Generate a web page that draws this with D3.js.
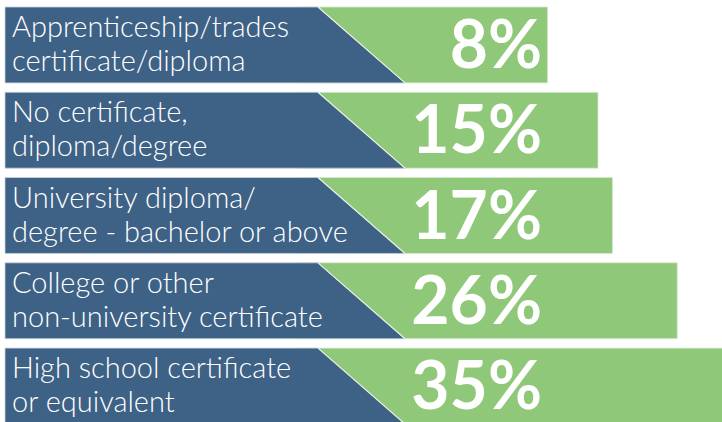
<!DOCTYPE html>
<html>
<head>
<meta charset="utf-8">
<script src="https://cdn.jsdelivr.net/npm/d3@7"></script>
<style>
  body { margin: 0; background: #fff; }
  svg { display: block; }
</style>
</head>
<body>
<div id="edu-container"><svg></svg></div>
<script>
// Data
var labelLine1 = ["Apprenticeship/trades", "No certificate,", "University diploma/", "College or other", "High school certificate"];
var labelLine2 = ["certificate/diploma", "diploma/degree", "degree - bachelor or above", "non-university certificate", "or equivalent"];
var shares = [8, 15, 17, 26, 35];

function CreateEducationChart() {
    var svgWidth = 722;
    var svgHeight = 422;

    var data = shares.map((v, i) => ({ value: v, l1: labelLine1[i], l2: labelLine2[i], idx: i }));

    const svg = d3.select('#edu-container > svg')
        .attr('width', svgWidth)
        .attr('height', svgHeight);

    // rows
    var yScale = d3.scaleBand()
        .domain(data.map(d => d.idx))
        .range([7, 424])
        .paddingInner(0.11)
        .paddingOuter(0);

    // bar end (green right edge)
    var xScale = d3.scaleLinear()
        .domain([0, 35])
        .range([490, 742]);

    var blueLeft = 5, diagTop = 318, diagBottom = 405;
    var blue = '#3e6186', green = '#8fc879';

    var rows = svg.selectAll('.row')
        .data(data)
        .enter()
        .append('g')
        .attr('class', 'row')
        .attr('transform', d => 'translate(0,' + yScale(d.idx) + ')');

    var h = yScale.bandwidth();

    rows.append('rect')
        .attr('x', diagTop - 20)
        .attr('y', 0)
        .attr('width', d => xScale(d.value) - (diagTop - 20))
        .attr('height', h)
        .attr('fill', green)
        .attr('stroke', '#d6ead0')
        .attr('stroke-width', 0.8);

    rows.append('path')
        .attr('d', 'M' + blueLeft + ',0 L' + diagTop + ',0 L' + diagBottom + ',' + h + ' L' + blueLeft + ',' + h + 'Z')
        .attr('fill', blue)
        .attr('stroke', '#c9d3dd')
        .attr('stroke-width', 0.8);

    // white seam along the diagonal
    rows.append('line')
        .attr('x1', diagTop).attr('y1', 0)
        .attr('x2', diagBottom).attr('y2', h)
        .attr('stroke', '#e8efe6')
        .attr('stroke-width', 1.2);

    // labels
    var lab = rows.append('text')
        .attr('fill', '#fff')
        .attr('font-family', 'Lato, sans-serif')
        .attr('font-weight', 300)
        .attr('font-size', '29px');
    lab.append('tspan').attr('x', 12).attr('y', 30).text(d => d.l1);
    lab.append('tspan').attr('x', 12).attr('y', 64).text(d => d.l2);

    // percentages
    rows.append('text')
        .attr('x', 542)
        .attr('y', 61)
        .attr('text-anchor', 'end')
        .attr('fill', '#fff')
        .attr('font-family', 'Lato, sans-serif')
        .attr('font-weight', 700)
        .attr('font-size', '66px')
        .text(d => d.value + '%');
}

CreateEducationChart();
</script>
</body>
</html>
